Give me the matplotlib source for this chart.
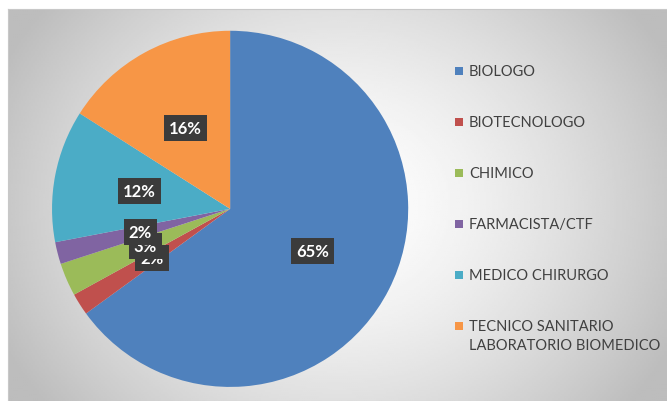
import numpy as np
import matplotlib
matplotlib.use("Agg")
import matplotlib.pyplot as plt

# dati
categorie = ["BIOLOGO", "BIOTECNOLOGO", "CHIMICO", "FARMACISTA/CTF",
             "MEDICO CHIRURGO", "TECNICO SANITARIO\nLABORATORIO BIOMEDICO"]
percentuali = [65, 2, 3, 2, 12, 16]
colori = ["#4F81BD", "#C0504D", "#9BBB59", "#8064A2", "#4BACC6", "#F79646"]

plt.rcParams['font.family'] = ['Lato', 'DejaVu Sans']

fig = plt.figure(figsize=(6.67, 4.02), dpi=100)
fig.patch.set_facecolor("white")

# sfondo con gradiente radiale
bg = fig.add_axes([8 / 667, 0, 1 - 8 / 667, 1 - 10 / 402])
yy, xx = np.mgrid[0:1:200j, 0:1:330j]
d = np.sqrt(((xx - 0.5) / 0.65) ** 2 + ((yy - 0.5) / 0.95) ** 2)
g = np.clip(1.0 - 0.32 * d ** 1.5, 0.74, 1.0)
bg.imshow(g, cmap="gray", vmin=0, vmax=1, aspect="auto", extent=[0, 1, 0, 1])
bg.set_xticks([])
bg.set_yticks([])
for s in bg.spines.values():
    s.set_color("#c8c8c8")

# torta
ax = fig.add_axes([0.078, 0.035, 0.534, 0.886])
wedges, testi = ax.pie(percentuali, colors=colori, startangle=90, counterclock=False,
                       labels=[f"{p}%" for p in percentuali], labeldistance=0.52,
                       wedgeprops=dict(linewidth=0))
for t in testi:
    t.set_color("white")
    t.set_fontweight("bold")
    t.set_fontsize(12)
    t.set_ha("center")
    t.set_va("center")
    t.set_bbox(dict(boxstyle="square,pad=0.3", facecolor="#3b3b3b", edgecolor="none"))
ax.set_xlim(-1, 1)
ax.set_ylim(-1, 1)
ax.set_aspect("equal")
ax.axis("off")

# legenda
y0 = 1 - 72 / 402
passo = 51 / 402
for i, (nome, c) in enumerate(zip(categorie, colori)):
    y = y0 - i * passo
    fig.patches.append(plt.Rectangle((455 / 667, y - 4 / 402), 8 / 667, 8 / 402,
                                     transform=fig.transFigure, facecolor=c,
                                     edgecolor="none"))
    fig.text(469 / 667, y + 7 / 402, nome, fontsize=10.5, color="#404040",
             va="top", ha="left", linespacing=1.45)

fig.savefig("out.png", dpi=100)
